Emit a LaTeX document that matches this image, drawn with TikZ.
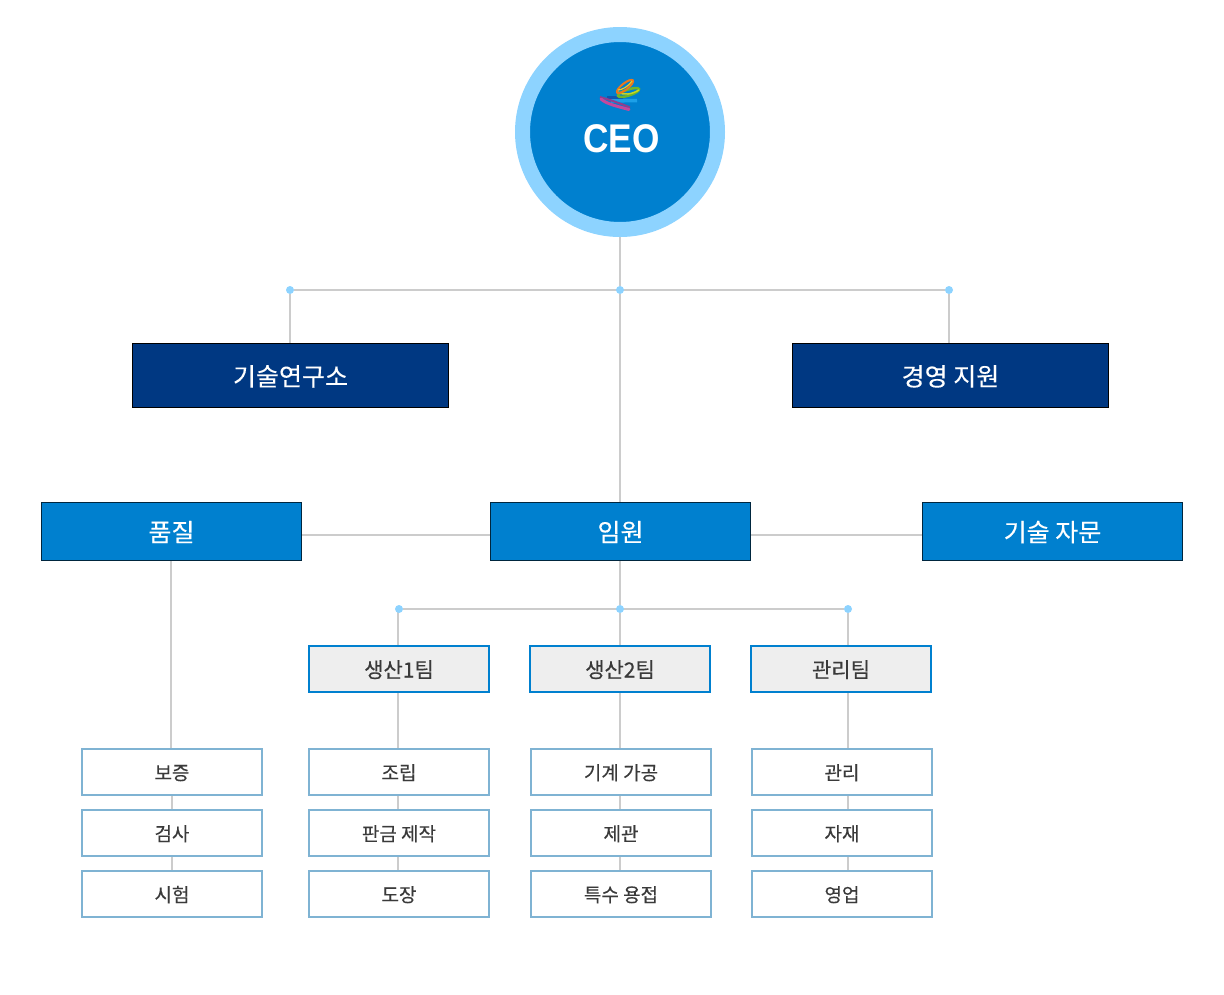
\documentclass[tikz,border=0pt]{standalone}
\usepackage{fontspec}
\usetikzlibrary{backgrounds}
\setmainfont[FakeBold=0.25]{Noto Sans CJK KR}
\newfontfamily\ceofont[FakeStretch=0.88]{Liberation Sans}
\definecolor{linegray}{HTML}{CCCCCC}
\definecolor{dotblue}{HTML}{8DD3FF}
\definecolor{navybox}{HTML}{003882}
\definecolor{bluebox}{HTML}{0080CF}
\definecolor{leafline}{HTML}{7FB3D3}
\definecolor{teamfill}{HTML}{EEEEEE}
\definecolor{textgray}{HTML}{3A3A3A}
\definecolor{logopink}{HTML}{C4489C}
\definecolor{logopurple}{HTML}{8E3F8E}
\definecolor{logogreen}{HTML}{6DB52C}
\definecolor{logolime}{HTML}{C8D820}
\definecolor{logoorange}{HTML}{E8781E}
\definecolor{logoyellow}{HTML}{F6C81E}
\definecolor{logoblue}{HTML}{0F56B0}
\definecolor{logocyan}{HTML}{1CA0E8}
\tikzset{
 conn/.style={draw=linegray,line width=2pt},
 hubdot/.style={circle,fill=dotblue,inner sep=0pt,minimum size=8pt},
 navynode/.style={text height=20.5pt,text depth=0pt,draw=black,line width=1pt,fill=navybox,text=white,inner sep=0pt,minimum width=316pt,minimum height=64pt,font=\fontsize{25}{30}\selectfont},
 bluenode/.style={text height=20pt,text depth=0pt,draw=black!70!bluebox,line width=1pt,fill=bluebox,text=white,inner sep=0pt,minimum width=260pt,minimum height=58pt,font=\fontsize{25}{30}\selectfont},
 teamnode/.style={text height=17pt,text depth=0pt,draw=bluebox,line width=2pt,fill=teamfill,text=textgray,inner sep=0pt,minimum width=180pt,minimum height=46pt,font=\fontsize{21}{25}\selectfont},
 leafnode/.style={text height=15.6pt,text depth=0pt,draw=leafline,line width=2pt,fill=white,text=textgray,inner sep=0pt,minimum width=180pt,minimum height=46pt,font=\fontsize{19}{23}\selectfont}
}
\begin{document}
\begin{tikzpicture}[x=1pt,y=-1pt]
 \useasboundingbox (0,0) rectangle (1224,994);
 % hubs
 \node[hubdot] (hubA) at (290,290) {};
 \node[hubdot] (hubB) at (620,290) {};
 \node[hubdot] (hubC) at (949,290) {};
 \node[hubdot] (hubD) at (399,609) {};
 \node[hubdot] (hubE) at (620,609) {};
 \node[hubdot] (hubF) at (848,609) {};
 % boxes
 \node[circle,draw=dotblue,line width=15pt,fill=bluebox,inner sep=0pt,minimum size=195pt] (ceo) at (620,132) {};
 \node[navynode] (lab) at (290.5,375.5) {기술연구소};
 \node[navynode] (support) at (950.5,375.5) {경영 지원};
 \node[bluenode] (quality) at (171.5,531.5) {품질};
 \node[bluenode] (exec) at (620.5,531.5) {임원};
 \node[bluenode] (advice) at (1052.5,531.5) {기술 자문};
 \node[teamnode] (teamA) at (399,669) {생산1팀};
 \node[teamnode] (teamB) at (620,669) {생산2팀};
 \node[teamnode] (teamC) at (841,669) {관리팀};
 \node[leafnode] (qa) at (172,772) {보증};
 \node[leafnode] (qb) at (172,833) {검사};
 \node[leafnode] (qc) at (172,894) {시험};
 \node[leafnode] (aa) at (399,772) {조립};
 \node[leafnode] (ab) at (399,833) {판금 제작};
 \node[leafnode] (ac) at (399,894) {도장};
 \node[leafnode] (ba) at (621,772) {기계 가공};
 \node[leafnode] (bb) at (621,833) {제관};
 \node[leafnode] (bc) at (621,894) {특수 용접};
 \node[leafnode] (ca) at (842,772) {관리};
 \node[leafnode] (cb) at (842,833) {자재};
 \node[leafnode] (cc) at (842,894) {영업};
 % connectors
 \begin{scope}[on background layer]
 \draw[conn] (ceo.south) -- (hubB);
 \draw[conn] (hubA) -- (hubC);
 \draw[conn] (hubA) -- (hubA |- lab.north);
 \draw[conn] (hubC) -- (hubC |- support.north);
 \draw[conn] (hubB) -- (hubB |- exec.north);
 \draw[conn] ([yshift=-3.5pt]quality.east) -- ([yshift=-3.5pt]exec.west);
 \draw[conn] ([yshift=-3.5pt]exec.east) -- ([yshift=-3.5pt]advice.west);
 \draw[conn] (hubE |- exec.south) -- (hubE);
 \draw[conn] (hubD) -- (hubF);
 \draw[conn] ([xshift=-.7pt]hubD.center) -- ([xshift=-.7pt]hubD |- teamA.north);
 \draw[conn] (hubE) -- (hubE |- teamB.north);
 \draw[conn] (hubF) -- (hubF |- teamC.north);
 \draw[conn] ([xshift=-.5pt]quality.south) -- ([xshift=-.5pt]quality.south |- qa.north);
 \draw[conn] (qa.south) -- (qb.north);
 \draw[conn] (qb.south) -- (qc.north);
 \draw[conn] ([xshift=-.7pt]teamA.south) -- ([xshift=-.7pt]aa.north);
 \draw[conn] ([xshift=-.7pt]aa.south) -- ([xshift=-.7pt]ab.north);
 \draw[conn] ([xshift=-.7pt]ab.south) -- ([xshift=-.7pt]ac.north);
 \draw[conn] (hubE |- teamB.south) -- (hubE |- ba.north);
 \draw[conn] (hubE |- ba.south) -- (hubE |- bb.north);
 \draw[conn] (hubE |- bb.south) -- (hubE |- bc.north);
 \draw[conn] (hubF |- teamC.south) -- (hubF |- ca.north);
 \draw[conn] (hubF |- ca.south) -- (hubF |- cb.north);
 \draw[conn] (hubF |- cb.south) -- (hubF |- cc.north);
 \end{scope}
 % logo
 \draw[draw=logoblue,line width=2.5pt] (607,97.5) -- (623,97.5);
 \draw[draw=logocyan,line width=3.5pt] (611,101) -- (637,100.5);
 \draw[draw=logogreen,line width=2.5pt,rotate around={18:(628.5,92.5)}] (628.5,92.5) ellipse (11pt and 3pt);
 \draw[draw=logolime,line width=1.5pt] (618,92) .. controls (624,96) and (632,94) .. (639,90);
 \draw[draw=logoorange,line width=2pt,rotate around={38:(625,86.5)}] (625,86.5) ellipse (10pt and 3.2pt);
 \draw[draw=logoyellow,line width=1.2pt] (618,90) .. controls (622,90) and (629,86) .. (632,81);
 \draw[draw=logopurple,line width=2pt] (630,107.5) .. controls (620,103) and (607,99) .. (600,97);
 \draw[draw=logopink,line width=3pt,line cap=round] (601,99) .. controls (606,104) and (620,107) .. (629,109.5);
 \node[text=white,font=\ceofont\bfseries\fontsize{40}{46}\selectfont,inner sep=0pt] (ceotext) at (621.5,139) {CEO};
\end{tikzpicture}
\end{document}
